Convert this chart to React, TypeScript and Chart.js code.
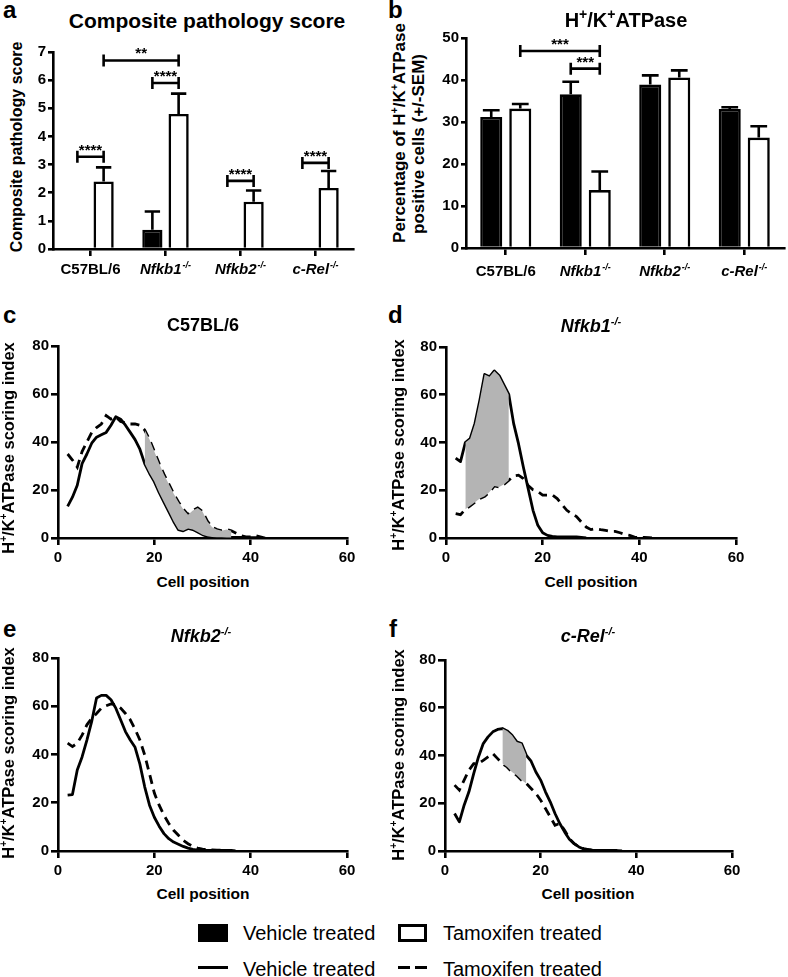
import React, { useEffect, useRef } from 'react';
import { Chart, registerables } from 'chart.js';

Chart.register(...registerables);

const FONT = '"Liberation Sans", Arial, Helvetica, sans-serif';
Chart.defaults.font.family = FONT;
Chart.defaults.color = '#000';

// ---------------- data ----------------
const categories = ['C57BL/6', 'Nfkb1', 'Nfkb2', 'c-Rel'];
const categorySuperscripts = ['', '-/-', '-/-', '-/-'];
const categoryItalic = [false, true, true, true];

const pathologyVehicle = [0, 0.68, 0, 0];
const pathologyVehicleSem = [0, 0.65, 0, 0];
const pathologyTamoxifen = [2.4, 4.8, 1.68, 2.17];
const pathologyTamoxifenSem = [0.5, 0.72, 0.4, 0.6];

const atpaseVehicle = [31.2, 36.6, 38.9, 33.1];
const atpaseVehicleSem = [1.6, 3.0, 2.2, 0.4];
const atpaseTamoxifen = [33.2, 13.8, 40.6, 26.3];
const atpaseTamoxifenSem = [1.1, 4.4, 1.7, 2.7];

// [fromCategory, fromSeries, toCategory, toSeries, yValue, label]
const pathologyBrackets: any[] = [
  [0, 0, 0, 1, 3.28, '****'],
  [0, 1, 1, 1, 6.7, '**'],
  [1, 0, 1, 1, 5.9, '****'],
  [2, 0, 2, 1, 2.42, '****'],
  [3, 0, 3, 1, 3.06, '****'],
];
const atpaseBrackets: any[] = [
  [0, 1, 1, 1, 46.9, '***'],
  [1, 0, 1, 1, 42.7, '***'],
];

const cellPositions = [2, 3, 4, 5, 6, 7, 8, 9, 10, 11, 12, 13, 14, 15, 16, 17, 18, 19, 20, 21, 22, 23, 24, 25, 26, 27, 28, 29, 30, 31, 32, 33, 34, 35, 36, 37, 38, 39, 40, 41, 42, 43, 44, 45];

const c57Vehicle = [13.2, 17, 22, 31, 35, 39.5, 42, 43, 44, 47, 50.5, 49.5, 47, 44, 41, 37, 31, 27, 23.5, 19, 15, 11, 7, 3.5, 3, 4, 3.5, 2.5, 1.4, 0.7, 0.4, 0.3, 0.3, 0.2, 0.2, 0.2, 0.2, 0.1, 0.1, 0.1, 0];
const c57Tamoxifen = [35, 32.5, 29.5, 36, 40, 44, 46, 47.5, 51, 49.5, 50.5, 48.5, 48, 47.5, 47.5, 47, 45, 41, 36, 31, 26.5, 22.5, 18.5, 15, 12, 9.7, 11.5, 12.5, 11, 7, 4.5, 3.5, 3, 3.5, 3, 2, 1, 0.5, 0.5, 1, 0.5, 0];
const c57Shade = [18, 36];

const nfkb1Vehicle = [33.5, 32, 40, 41.6, 48, 57.7, 68.5, 67.5, 70, 68, 64, 60, 47.9, 39.5, 29.7, 20.7, 11.6, 5.3, 2.2, 1.1, 0.7, 0.5, 0.5, 0.5, 0.5, 0.5, 0.3, 0];
const nfkb1Tamoxifen = [10.2, 9.8, 12, 13.5, 15, 16.5, 17.5, 19.3, 21.8, 21.4, 22.5, 24.2, 26, 26.3, 24.9, 22, 20.2, 19.5, 18, 18, 18, 16.5, 14, 11.6, 10.2, 9, 6.7, 4.6, 3.5, 3.9, 3.5, 3.2, 2.8, 2.8, 2.2, 1.5, 1.1, 0.4, 0.1, 0.3, 0.2, 0];
const nfkb1Shade = [4, 13];

const nfkb2Vehicle = [23.2, 23.4, 33.6, 39, 46, 53.7, 63.4, 64.5, 64.5, 62.7, 59.2, 54.4, 49.5, 46, 43, 36, 26.6, 19, 14, 10.3, 7.2, 5.1, 3.7, 2.8, 1.9, 1.2, 0.7, 0.4, 0.3, 0.2, 0.2, 0.2, 0.2, 0.2, 0];
const nfkb2Tamoxifen = [44.7, 43.3, 44.7, 48, 52.3, 55, 57, 59.2, 60.2, 61, 60.6, 59.2, 57, 54.4, 50.5, 46, 39.8, 32, 24, 19, 14.8, 11.4, 8.6, 6.5, 4.4, 3, 1.9, 1.2, 0.8, 0.6, 0.5, 0.4, 0.4, 0.3, 0.2, 0];

const cRelVehicle = [15.7, 12.2, 19.2, 24.8, 32.4, 39.4, 45, 47.8, 49.9, 50.9, 51.3, 50.3, 48.5, 45.7, 45, 40.1, 37.6, 33.1, 29.7, 24.8, 20.6, 15.7, 11.5, 8, 4.9, 3.1, 1.7, 0.8, 0.6, 0.3, 0.2, 0.2, 0.2, 0.2, 0.2, 0];
const cRelTamoxifen = [27.6, 25.5, 29.7, 33.8, 36.6, 36.6, 38, 39.4, 40.8, 38.7, 36.6, 35.2, 33.1, 31.7, 29.7, 28.3, 26.2, 24.1, 21.3, 17.8, 14.3, 10.8, 11.5, 8.7, 5.2, 3.1, 1.7, 1, 0.6, 0.3, 0.2, 0];
const cRelShade = [12, 17];

const xTicksLine = { min: 0, max: 60, step: 20 };
const yTicksLine = { min: 0, max: 80, step: 20 };

const SHADE = '#b4b4b4';
const AXIS_W = 2.6;
const LINE_W = 2.8;

// ---------------- helpers ----------------
function drawRich(ctx: any, x: number, y: number, main: string, sup: string, italic: boolean, size: number) {
  const mainFont = `${italic ? 'italic ' : ''}bold ${size}px ${FONT}`;
  const supSize = Math.round(size * 0.62);
  const supFont = `${italic ? 'italic ' : ''}bold ${supSize}px ${FONT}`;
  ctx.font = mainFont;
  const w1 = ctx.measureText(main).width;
  ctx.font = supFont;
  const w2 = sup ? ctx.measureText(sup).width + 1 : 0;
  const start = x - (w1 + w2) / 2;
  ctx.textAlign = 'left';
  ctx.textBaseline = 'alphabetic';
  ctx.fillStyle = '#000';
  ctx.font = mainFont;
  ctx.fillText(main, start, y);
  if (sup) {
    ctx.font = supFont;
    ctx.fillText(sup, start + w1 + 1, y - size * 0.42);
  }
}

const grid = (len: number) => ({
  display: true,
  drawOnChartArea: false,
  drawTicks: true,
  tickLength: len,
  tickWidth: AXIS_W,
  lineWidth: AXIS_W,
  tickColor: '#000',
  color: '#000',
});
const border = { display: true, color: '#000', width: AXIS_W };
const tickFont = { size: 15, weight: 'bold' as const };

function makeBarConfig(o: any) {
  const sems = [o.vehicleSem, o.tamoxifenSem];
  const plugin = {
    id: 'barAnnotations',
    afterDatasetsDraw(chart: any) {
      const { ctx } = chart;
      const y = chart.scales.y;
      ctx.save();
      ctx.strokeStyle = '#000';
      ctx.fillStyle = '#000';
      ctx.lineWidth = AXIS_W;
      [0, 1].forEach((di) => {
        const meta = chart.getDatasetMeta(di);
        const values = chart.data.datasets[di].data;
        meta.data.forEach((bar: any, i: number) => {
          const sem = sems[di][i];
          if (!sem) return;
          const v = values[i];
          const yv = y.getPixelForValue(v);
          const yt = y.getPixelForValue(v + sem);
          const half = bar.width * 0.38;
          ctx.beginPath();
          ctx.moveTo(bar.x, yv);
          ctx.lineTo(bar.x, yt);
          ctx.moveTo(bar.x - half, yt);
          ctx.lineTo(bar.x + half, yt);
          ctx.stroke();
        });
      });
      o.brackets.forEach((b: any) => {
        const [c1, s1, c2, s2, val, label] = b;
        const x1 = chart.getDatasetMeta(s1).data[c1].x;
        const x2 = chart.getDatasetMeta(s2).data[c2].x;
        const yy = y.getPixelForValue(val);
        ctx.beginPath();
        ctx.moveTo(x1, yy);
        ctx.lineTo(x2, yy);
        ctx.moveTo(x1, yy - 6);
        ctx.lineTo(x1, yy + 6);
        ctx.moveTo(x2, yy - 6);
        ctx.lineTo(x2, yy + 6);
        ctx.stroke();
        ctx.font = `bold 15px ${FONT}`;
        ctx.textAlign = 'center';
        ctx.textBaseline = 'alphabetic';
        ctx.fillText(label, (x1 + x2) / 2, yy - 2);
      });
      ctx.restore();
    },
    afterDraw(chart: any) {
      const { ctx, chartArea } = chart;
      const x = chart.scales.x;
      ctx.save();
      categories.forEach((c, i) => {
        drawRich(ctx, x.getPixelForValue(i), chartArea.bottom + o.labelOffset, c, categorySuperscripts[i], categoryItalic[i], 15);
      });
      ctx.restore();
    },
  };
  return {
    type: 'bar',
    data: {
      labels: categories,
      datasets: [
        {
          label: 'Vehicle treated',
          data: o.vehicle,
          backgroundColor: '#000',
          borderColor: '#000',
          borderWidth: (ctx: any) => (o.vehicle[ctx.dataIndex] > 0 ? AXIS_W : 0),
          categoryPercentage: o.catPct,
          barPercentage: o.barPct,
        },
        {
          label: 'Tamoxifen treated',
          data: o.tamoxifen,
          backgroundColor: '#fff',
          borderColor: '#000',
          borderWidth: (ctx: any) => (o.tamoxifen[ctx.dataIndex] > 0 ? AXIS_W : 0),
          categoryPercentage: o.catPct,
          barPercentage: o.barPct,
        },
      ],
    },
    options: {
      responsive: false,
      animation: false,
      events: [],
      layout: { padding: o.padding },
      plugins: { legend: { display: false }, tooltip: { enabled: false } },
      scales: {
        x: {
          grid: { ...grid(7), offset: false },
          border,
          ticks: { display: false },
          afterFit: (s: any) => { s.height = o.axisHeight; },
        },
        y: {
          min: 0,
          max: o.yMax,
          ticks: { stepSize: o.yStep, font: tickFont, color: '#000', padding: 2 },
          grid: grid(5),
          border,
          afterFit: (s: any) => { s.width = o.axisWidth; },
        },
      },
    },
    plugins: [plugin],
  };
}

function makeLineConfig(o: any) {
  const toPts = (arr: number[]) => arr.map((v, i) => ({ x: cellPositions[i], y: v }));
  const vPts = toPts(o.vehicle);
  const tPts = toPts(o.tamoxifen);
  const datasets: any[] = [];
  if (o.shade) {
    const inRange = (p: any) => p.x >= o.shade[0] && p.x <= o.shade[1];
    datasets.push({
      data: vPts.filter(inRange),
      borderColor: 'rgba(0,0,0,0)',
      backgroundColor: SHADE,
      borderWidth: 1,
      fill: 1,
      pointRadius: 0,
    });
    datasets.push({
      data: tPts.filter(inRange),
      borderColor: 'rgba(0,0,0,0)',
      borderWidth: 1,
      fill: false,
      pointRadius: 0,
    });
  }
  datasets.push({
    label: 'Vehicle treated',
    data: vPts,
    borderColor: '#000',
    borderWidth: LINE_W,
    pointRadius: 0,
    fill: false,
    tension: 0,
    borderJoinStyle: 'round',
  });
  datasets.push({
    label: 'Tamoxifen treated',
    data: tPts,
    borderColor: '#000',
    borderWidth: LINE_W,
    borderDash: [9, 6],
    pointRadius: 0,
    fill: false,
    tension: 0,
  });
  return {
    type: 'line',
    data: { datasets },
    options: {
      responsive: false,
      animation: false,
      events: [],
      layout: { padding: o.padding },
      plugins: { legend: { display: false }, tooltip: { enabled: false } },
      scales: {
        x: {
          type: 'linear',
          min: xTicksLine.min,
          max: xTicksLine.max,
          ticks: { stepSize: xTicksLine.step, font: tickFont, color: '#000', padding: 4, maxRotation: 0 },
          grid: grid(7),
          border,
          afterFit: (s: any) => { s.height = o.axisHeight; },
        },
        y: {
          type: 'linear',
          min: yTicksLine.min,
          max: yTicksLine.max,
          ticks: { stepSize: yTicksLine.step, font: tickFont, color: '#000', padding: 2 },
          grid: grid(7),
          border,
          afterFit: (s: any) => { s.width = o.axisWidth; },
        },
      },
    },
  };
}

function ChartBox({ left, top, width, height, config }: any) {
  const ref = useRef<HTMLCanvasElement>(null);
  useEffect(() => {
    const chart = new Chart(ref.current as any, config() as any);
    return () => chart.destroy();
  }, []);
  return (
    <canvas
      ref={ref}
      width={width}
      height={height}
      style={{ position: 'absolute', left, top, width, height }}
    />
  );
}

function Txt({ x, y, size, weight = 700, italic = false, align = 'left', rotate = false, children }: any) {
  const style: any = {
    position: 'absolute',
    fontSize: size,
    lineHeight: `${size}px`,
    fontWeight: weight,
    fontStyle: italic ? 'italic' : 'normal',
    whiteSpace: 'nowrap',
  };
  if (rotate) {
    style.left = x;
    style.top = y;
    style.transform = 'translate(-50%,-50%) rotate(-90deg)';
  } else {
    style.left = x;
    style.top = y - 0.8465 * size;
    if (align === 'center') style.transform = 'translateX(-50%)';
  }
  return <div style={style}>{children}</div>;
}

const Sup = ({ children, r = 0.62 }: any) => (
  <span style={{ fontSize: `${r}em`, position: 'relative', top: `${-0.4 / r}em` }}>{children}</span>
);

const HK = ({ r = 0.62 }: any) => (
  <>
    H<Sup r={r}>+</Sup>/K<Sup r={r}>+</Sup>ATPase
  </>
);

export default function App() {
  return (
    <div
      style={{
        position: 'absolute',
        left: 0,
        top: 0,
        width: 788,
        height: 977,
        background: '#fff',
        fontFamily: FONT,
        color: '#000',
        overflow: 'hidden',
      }}
    >
      {/* Panel a */}
      <ChartBox
        left={25}
        top={35}
        width={345}
        height={250}
        config={() =>
          makeBarConfig({
            vehicle: pathologyVehicle,
            vehicleSem: pathologyVehicleSem,
            tamoxifen: pathologyTamoxifen,
            tamoxifenSem: pathologyTamoxifenSem,
            yMax: 7,
            yStep: 1,
            brackets: pathologyBrackets,
            labelOffset: 25,
            axisWidth: 28,
            axisHeight: 36,
            padding: { top: 17, right: 17, left: 0, bottom: 0 },
            catPct: 0.7,
            barPct: 0.77,
          })
        }
      />
      {/* Panel b */}
      <ChartBox
        left={428}
        top={20}
        width={360}
        height={265}
        config={() =>
          makeBarConfig({
            vehicle: atpaseVehicle,
            vehicleSem: atpaseVehicleSem,
            tamoxifen: atpaseTamoxifen,
            tamoxifenSem: atpaseTamoxifenSem,
            yMax: 50,
            yStep: 10,
            brackets: atpaseBrackets,
            labelOffset: 28,
            axisWidth: 38,
            axisHeight: 37,
            padding: { top: 18, right: 4, left: 0, bottom: 0 },
            catPct: 0.73,
            barPct: 0.76,
          })
        }
      />
      {/* Panel c */}
      <ChartBox
        left={18}
        top={328}
        width={352}
        height={240}
        config={() =>
          makeLineConfig({
            vehicle: c57Vehicle,
            tamoxifen: c57Tamoxifen,
            shade: c57Shade,
            axisWidth: 40,
            axisHeight: 30,
            padding: { top: 18, right: 23, left: 0, bottom: 0 },
          })
        }
      />
      {/* Panel d */}
      <ChartBox
        left={406}
        top={328}
        width={354}
        height={240}
        config={() =>
          makeLineConfig({
            vehicle: nfkb1Vehicle,
            tamoxifen: nfkb1Tamoxifen,
            shade: nfkb1Shade,
            axisWidth: 40,
            axisHeight: 30,
            padding: { top: 19, right: 24, left: 0, bottom: 0 },
          })
        }
      />
      {/* Panel e */}
      <ChartBox
        left={18}
        top={638}
        width={352}
        height={243}
        config={() =>
          makeLineConfig({
            vehicle: nfkb2Vehicle,
            tamoxifen: nfkb2Tamoxifen,
            shade: null,
            axisWidth: 40,
            axisHeight: 30,
            padding: { top: 20, right: 23, left: 0, bottom: 0 },
          })
        }
      />
      {/* Panel f */}
      <ChartBox
        left={405}
        top={640}
        width={355}
        height={241}
        config={() =>
          makeLineConfig({
            vehicle: cRelVehicle,
            tamoxifen: cRelTamoxifen,
            shade: cRelShade,
            axisWidth: 40,
            axisHeight: 30,
            padding: { top: 20, right: 28, left: 0, bottom: 0 },
          })
        }
      />

      {/* Panel letters */}
      <Txt x={3} y={18} size={24}>a</Txt>
      <Txt x={388} y={18} size={24}>b</Txt>
      <Txt x={3} y={323} size={24}>c</Txt>
      <Txt x={388} y={323} size={24}>d</Txt>
      <Txt x={3} y={637} size={24}>e</Txt>
      <Txt x={389} y={637} size={24}>f</Txt>

      {/* Titles */}
      <Txt x={207} y={28} size={21} align="center">Composite pathology score</Txt>
      <Txt x={626} y={27} size={20} align="center"><HK r={0.7} /></Txt>
      <Txt x={203} y={331} size={18} align="center">C57BL/6</Txt>
      <Txt x={591} y={332} size={18} align="center"><i>Nfkb1</i><Sup><i>-/-</i></Sup></Txt>
      <Txt x={201} y={642} size={18} align="center"><i>Nfkb2</i><Sup><i>-/-</i></Sup></Txt>
      <Txt x={588} y={642} size={18} align="center"><i>c-Rel</i><Sup><i>-/-</i></Sup></Txt>

      {/* Y axis titles */}
      <Txt x={17} y={147} size={16} rotate>Composite pathology score</Txt>
      <Txt x={400} y={133} size={17} rotate>Percentage of <HK /></Txt>
      <Txt x={418} y={144} size={17} rotate>positive cells (+/-SEM)</Txt>
      <Txt x={10} y={448} size={16.5} rotate><HK /> scoring index</Txt>
      <Txt x={400} y={445} size={16.5} rotate><HK /> scoring index</Txt>
      <Txt x={10} y={753} size={16.5} rotate><HK /> scoring index</Txt>
      <Txt x={400} y={755} size={16.5} rotate><HK /> scoring index</Txt>

      {/* X axis titles */}
      <Txt x={203} y={587} size={15.5} align="center">Cell position</Txt>
      <Txt x={591} y={587} size={15.5} align="center">Cell position</Txt>
      <Txt x={203} y={899} size={15.5} align="center">Cell position</Txt>
      <Txt x={588} y={899} size={15.5} align="center">Cell position</Txt>

      {/* Legend */}
      <div style={{ position: 'absolute', left: 198, top: 924, width: 30, height: 18, background: '#000' }} />
      <Txt x={243} y={940} size={20} weight={400}>Vehicle treated</Txt>
      <div
        style={{
          position: 'absolute',
          left: 398,
          top: 924,
          width: 29,
          height: 18,
          border: '3px solid #000',
          boxSizing: 'border-box',
          background: '#fff',
        }}
      />
      <Txt x={443} y={940} size={20} weight={400}>Tamoxifen treated</Txt>
      <div style={{ position: 'absolute', left: 198, top: 966, width: 30, height: 3, background: '#000' }} />
      <div style={{ position: 'absolute', left: 398, top: 966, width: 12, height: 3, background: '#000' }} />
      <div style={{ position: 'absolute', left: 415, top: 966, width: 12, height: 3, background: '#000' }} />
      <Txt x={243} y={976} size={20} weight={400}>Vehicle treated</Txt>
      <Txt x={443} y={976} size={20} weight={400}>Tamoxifen treated</Txt>
    </div>
  );
}
